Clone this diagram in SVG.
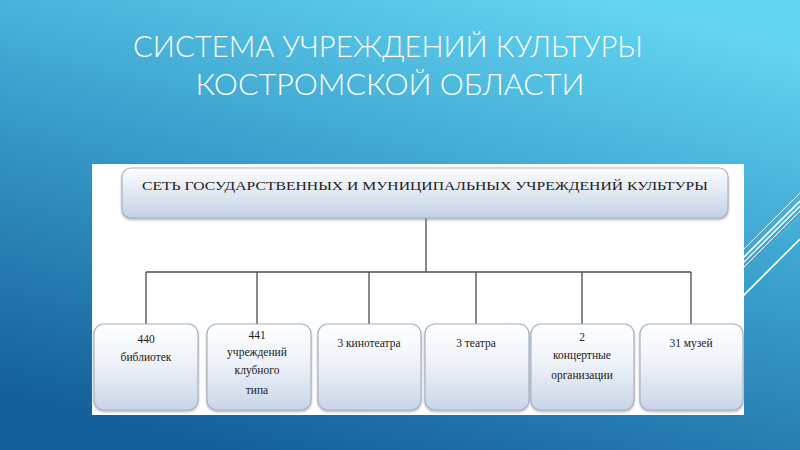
<svg xmlns="http://www.w3.org/2000/svg" width="800" height="450" viewBox="0 0 800 450">
<defs>
<linearGradient id="bg" x1="0.75" y1="0" x2="0.3" y2="1">
<stop offset="0" stop-color="#63d4f1"/>
<stop offset="0.45" stop-color="#3a9fcc"/>
<stop offset="1" stop-color="#15609a"/>
</linearGradient>
<linearGradient id="boxg" x1="0" y1="0" x2="0" y2="1">
<stop offset="0" stop-color="#ffffff"/>
<stop offset="0.45" stop-color="#eef2f8"/>
<stop offset="1" stop-color="#c8d5e8"/>
</linearGradient>
<linearGradient id="topg" x1="0" y1="0" x2="0" y2="1">
<stop offset="0" stop-color="#fdfdfe"/>
<stop offset="0.4" stop-color="#e6ecf5"/>
<stop offset="1" stop-color="#c2d0e6"/>
</linearGradient>
<filter id="sh" x="-10%" y="-10%" width="120%" height="130%">
<feDropShadow dx="0" dy="1.5" stdDeviation="1.2" flood-color="#7a8494" flood-opacity="0.6"/>
</filter>
</defs>
<style>
.title{font-family:"Lato","Open Sans","DejaVu Sans",sans-serif;font-weight:300;font-size:30px;fill:#ffffff;text-anchor:middle}
.box{fill:url(#boxg);stroke:#a8b3c3;stroke-width:1.2}
.lbl{font-family:"Liberation Serif","DejaVu Serif",serif;font-size:11.5px;fill:#222;text-anchor:middle}
.conn{stroke:#4a4a4a;stroke-width:1.3;fill:none}
.deco{stroke:#ffffff;fill:none}
</style>
<rect width="800" height="450" fill="url(#bg)"/>
<g id="deco">
<line class="deco" x1="640" y1="353" x2="800" y2="193" stroke-width="1" opacity="0.85"/>
<line class="deco" x1="640" y1="361" x2="800" y2="201" stroke-width="1.6"/>
<line class="deco" x1="640" y1="366" x2="800" y2="206" stroke-width="1.3"/>
<line class="deco" x1="640" y1="371" x2="800" y2="211" stroke-width="1"/>
<line class="deco" x1="640" y1="399" x2="800" y2="239" stroke-width="1.6"/>
</g>
<g id="title">
<text class="title" x="388" y="57" textLength="510" lengthAdjust="spacingAndGlyphs">СИСТЕМА УЧРЕЖДЕНИЙ КУЛЬТУРЫ</text>
<text class="title" x="390" y="95" textLength="389" lengthAdjust="spacingAndGlyphs">КОСТРОМСКОЙ ОБЛАСТИ</text>
</g>
<rect id="panel" x="92" y="164" width="652" height="251" fill="#ffffff"/>
<g id="connectors">
<line class="conn" x1="426" y1="218" x2="426" y2="272"/>
<line class="conn" x1="146" y1="272" x2="691" y2="272"/>
<line class="conn" x1="146" y1="272" x2="146" y2="324"/>
<line class="conn" x1="257" y1="272" x2="257" y2="324"/>
<line class="conn" x1="369" y1="272" x2="369" y2="324"/>
<line class="conn" x1="476" y1="272" x2="476" y2="324"/>
<line class="conn" x1="582" y1="272" x2="582" y2="324"/>
<line class="conn" x1="691" y1="272" x2="691" y2="324"/>
</g>
<g id="root">
<rect x="122" y="168" width="606" height="50" rx="9" fill="url(#topg)" stroke="#a8b3c3" stroke-width="1.2" filter="url(#sh)"/>
<text class="lbl" x="425" y="190" font-size="13.5" textLength="566" lengthAdjust="spacingAndGlyphs">СЕТЬ ГОСУДАРСТВЕННЫХ И МУНИЦИПАЛЬНЫХ УЧРЕЖДЕНИЙ КУЛЬТУРЫ</text>
</g>
<g id="n1">
<rect class="box" x="94" y="324" width="104" height="86" rx="10" filter="url(#sh)"/>
<text class="lbl" x="146" y="343">440</text>
<text class="lbl" x="146" y="361">библиотек</text>
</g>
<g id="n2">
<rect class="box" x="207" y="324" width="104" height="86" rx="10" filter="url(#sh)"/>
<text class="lbl" x="257" y="339">441</text>
<text class="lbl" x="257" y="356">учреждений</text>
<text class="lbl" x="257" y="374">клубного</text>
<text class="lbl" x="257" y="394">типа</text>
</g>
<g id="n3">
<rect class="box" x="318" y="324" width="103" height="86" rx="10" filter="url(#sh)"/>
<text class="lbl" x="369" y="347">3 кинотеатра</text>
</g>
<g id="n4">
<rect class="box" x="425" y="324" width="104" height="86" rx="10" filter="url(#sh)"/>
<text class="lbl" x="476" y="347">3 театра</text>
</g>
<g id="n5">
<rect class="box" x="531" y="324" width="103" height="86" rx="10" filter="url(#sh)"/>
<text class="lbl" x="582" y="341">2</text>
<text class="lbl" x="582" y="359">концертные</text>
<text class="lbl" x="582" y="379">организации</text>
</g>
<g id="n6">
<rect class="box" x="640" y="324" width="103" height="86" rx="10" filter="url(#sh)"/>
<text class="lbl" x="691" y="347">31 музей</text>
</g>
</svg>
